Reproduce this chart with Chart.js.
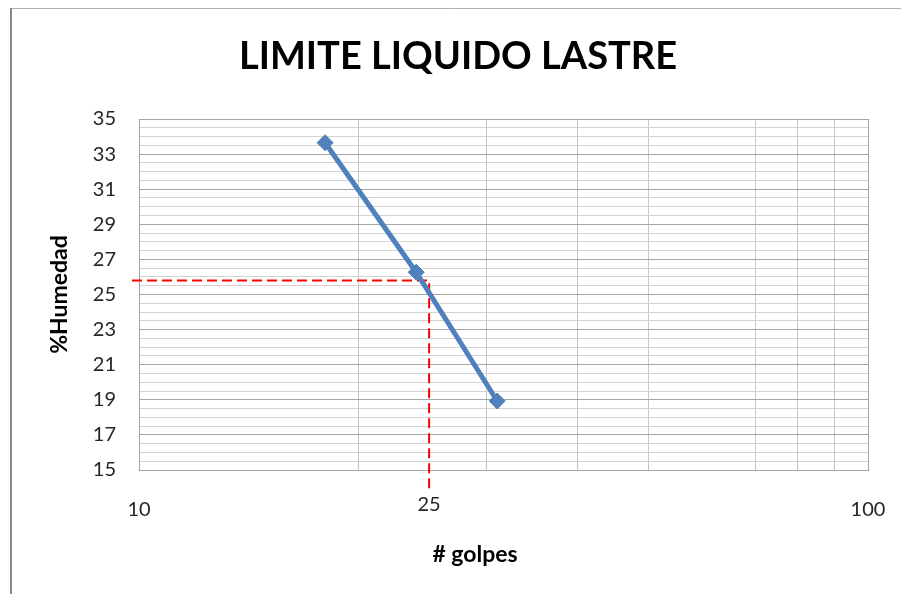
<!DOCTYPE html>
<html>
<head>
<meta charset="utf-8">
<title>LIMITE LIQUIDO LASTRE</title>
<script src="https://cdn.jsdelivr.net/npm/chart.js@4/dist/chart.umd.min.js"></script>
<style>
  html, body { margin: 0; padding: 0; background: #fff; }
  #wrap { width: 901px; height: 594px; position: relative; }
</style>
</head>
<body>
<div id="wrap"><canvas id="chart" width="901" height="594"></canvas></div>
<script>
// Blow counts (log axis) and measured moisture content
const BLOWS = [18, 24, 31];
const HUMIDITY = [33.65, 26.27, 18.93];

// Liquid limit read at 25 blows
const LL_BLOWS = 25;
const LL_VALUE = 25.8;

// Axis ticks
const X_LABELS = [10, 100];
const X_GRID = [20, 30, 40, 50, 70, 80, 90];
const Y_LABELS = [15, 17, 19, 21, 23, 25, 27, 29, 31, 33, 35];

const FONT = 'Lato, "Open Sans", sans-serif';
const BORDER = '#a3a3a3';
const TICK_COLOR = '#262626';

const framePlugin = {
  id: 'frame',
  beforeDraw(chart) {
    const ctx = chart.ctx;
    ctx.save();
    ctx.fillStyle = '#fff';
    ctx.fillRect(0, 0, chart.width, chart.height);
    ctx.strokeStyle = '#b0b0b0';
    ctx.lineWidth = 1;
    ctx.beginPath();
    ctx.moveTo(10, 8.5);
    ctx.lineTo(chart.width, 8.5);
    ctx.stroke();
    ctx.strokeStyle = '#8a8a8a';
    ctx.lineWidth = 2;
    ctx.beginPath();
    ctx.moveTo(11, 8);
    ctx.lineTo(11, chart.height);
    ctx.stroke();
    ctx.restore();
  }
};

// Red dashed guide from the liquid limit to both axes, plus its blow label
const guidePlugin = {
  id: 'llGuide',
  beforeDatasetsDraw(chart) {
    const {ctx, chartArea, scales} = chart;
    const px = scales.x.getPixelForValue(LL_BLOWS);
    const py = scales.y.getPixelForValue(LL_VALUE);
    ctx.save();
    ctx.strokeStyle = '#ff0000';
    ctx.lineWidth = 2;
    ctx.setLineDash([10, 5]);
    ctx.beginPath();
    ctx.moveTo(chartArea.left - 7, py);
    ctx.lineTo(px, py);
    ctx.lineTo(px, chartArea.bottom + 20);
    ctx.stroke();
    ctx.restore();
  },
  afterDraw(chart) {
    const {ctx, chartArea, scales} = chart;
    const px = scales.x.getPixelForValue(LL_BLOWS);
    ctx.save();
    ctx.fillStyle = TICK_COLOR;
    ctx.font = '20px ' + FONT;
    ctx.textAlign = 'center';
    ctx.textBaseline = 'middle';
    ctx.fillText(String(LL_BLOWS), px, chartArea.bottom + 35);
    ctx.fillStyle = '#000';
    ctx.font = 'bold 23px ' + FONT;
    ctx.fillText('# golpes', 475, chartArea.bottom + 85);
    ctx.restore();
  }
};

new Chart(document.getElementById('chart'), {
  type: 'scatter',
  data: {
    datasets: [{
      label: '%Humedad',
      data: BLOWS.map((b, i) => ({x: b, y: HUMIDITY[i]})),
      showLine: true,
      borderColor: '#4f81bd',
      backgroundColor: '#4f81bd',
      borderWidth: 5,
      pointStyle: 'rectRot',
      pointRadius: 8,
      pointHoverRadius: 8,
      pointBorderWidth: 1
    }]
  },
  options: {
    responsive: false,
    animation: false,
    events: [],
    layout: { padding: { top: 0, right: 0, bottom: 0, left: 15 } },
    plugins: {
      legend: { display: false },
      tooltip: { enabled: false },
      title: {
        display: true,
        text: 'LIMITE LIQUIDO LASTRE',
        color: '#000',
        font: { family: FONT, size: 38, weight: 'bold', lineHeight: 1.2 },
        padding: { top: 34, bottom: 39.4 }
      }
    },
    scales: {
      x: {
        type: 'logarithmic',
        min: 10,
        max: 100,
        afterFit(scale) { scale.height = 124; },
        afterBuildTicks(scale) {
          scale.ticks = X_LABELS.concat(X_GRID).sort((a, b) => a - b).map(v => ({value: v}));
        },
        grid: {
          drawTicks: false,
          lineWidth: 1,
          color: c => X_GRID.includes(c.tick.value) ? '#c6c6c6' : (c.tick.value === 100 ? BORDER : 'rgba(0,0,0,0)')
        },
        border: { display: true, color: BORDER, width: 1 },
        ticks: {
          autoSkip: false,
          maxRotation: 0,
          padding: 0,
          color: TICK_COLOR,
          font: { family: FONT, size: 20, lineHeight: 4 },
          callback: v => X_LABELS.includes(v) ? String(v) : ''
        }
      },
      y: {
        type: 'linear',
        min: 15,
        max: 35,
        afterFit(scale) { scale.width = 124; },
        grid: {
          drawTicks: false,
          lineWidth: 1,
          color: c => Y_LABELS.includes(c.tick.value) ? '#a6a6a6' : '#d3d3d3'
        },
        border: { display: true, color: BORDER, width: 1 },
        ticks: {
          stepSize: 0.5,
          autoSkip: false,
          padding: 23,
          color: TICK_COLOR,
          font: { family: FONT, size: 20 },
          callback: v => Y_LABELS.includes(v) ? String(v) : ''
        },
        title: {
          display: true,
          text: '%Humedad',
          color: '#000',
          font: { family: FONT, size: 23, weight: 'bold', lineHeight: 1.2 },
          padding: { top: 31, bottom: 0 }
        }
      },
      // empty right-hand gutter keeping the plot clear of the frame edge
      gutter: {
        type: 'linear',
        position: 'right',
        display: true,
        afterFit(scale) { scale.width = 33; },
        grid: { display: false, drawTicks: false },
        border: { display: false },
        ticks: { display: false }
      }
    }
  },
  plugins: [framePlugin, guidePlugin]
});
</script>
</body>
</html>
